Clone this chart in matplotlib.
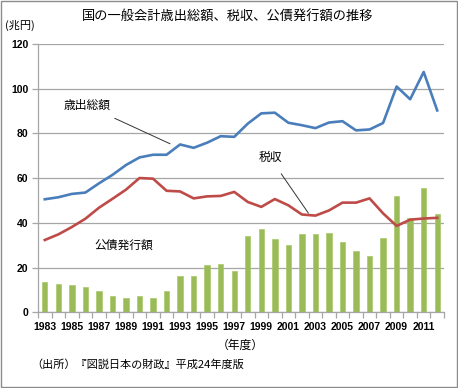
import matplotlib
matplotlib.use('Agg')
import matplotlib.pyplot as plt
import matplotlib.patches as mpatches
import numpy as np

# data (兆円), FY1983-2012
years = list(range(1983, 2013))
spending = [50.6, 51.5, 53.0, 53.6, 57.7, 61.5, 65.9, 69.3, 70.5, 70.5,
            75.1, 73.6, 75.9, 78.8, 78.5, 84.4, 89.0, 89.3, 84.8, 83.7,
            82.4, 84.9, 85.5, 81.4, 81.8, 84.7, 101.0, 95.3, 107.5, 90.3]
taxes = [32.4, 34.9, 38.2, 41.9, 46.8, 50.8, 54.9, 60.1, 59.8, 54.4,
         54.1, 51.0, 51.9, 52.1, 53.9, 49.4, 47.2, 50.7, 47.9, 43.8,
         43.3, 45.6, 49.1, 49.1, 51.0, 44.3, 38.7, 41.5, 42.0, 42.3]
bonds = [13.5, 12.8, 12.3, 11.3, 9.4, 7.2, 6.6, 7.3, 6.7, 9.5,
         16.2, 16.5, 21.2, 21.7, 18.5, 34.0, 37.5, 33.0, 30.0, 35.0,
         35.3, 35.5, 31.3, 27.5, 25.4, 33.2, 52.0, 42.3, 55.8, 44.2]
yticks = [0, 20, 40, 60, 80, 100, 120]

jp = ['Noto Sans CJK JP', 'DejaVu Sans']
num = 'Liberation Sans'

fig = plt.figure(figsize=(4.58, 3.88), dpi=100)
ax = fig.add_axes([0.083, 0.1946, 0.8864, 0.692])

x = np.arange(len(years))
ax.bar(x, bonds, width=0.4, color='#9bbb59', edgecolor='#a9c96a', linewidth=0.5, zorder=2)
ax.plot(x, spending, color='#4a7ebb', linewidth=1.9, zorder=3)
ax.plot(x, taxes, color='#be4b48', linewidth=1.9, zorder=3)

ax.set_xlim(-0.5, len(years) - 0.5)
ax.set_ylim(0, 120)
ax.set_yticks(yticks)
ax.set_yticklabels([str(v) for v in yticks], fontfamily=num, fontweight='bold', fontsize=7.5)
ax.yaxis.grid(True, color='#a6a6a6', linewidth=0.9, zorder=0)
ax.set_axisbelow(True)

ax.set_xticks(x[::2])
ax.set_xticklabels([str(y) for y in years[::2]], fontfamily=num, fontweight='bold', fontsize=7.5)
ax.tick_params(axis='x', length=0, pad=7)
ax.set_xticks(np.arange(-0.5, len(years), 1.0), minor=True)
ax.tick_params(axis='x', which='minor', length=4, color='#a6a6a6', width=0.9)
ax.tick_params(axis='y', length=4, color='#a6a6a6', width=0.9, pad=3)

for s in ['top', 'right']:
    ax.spines[s].set_visible(False)
for s in ['left', 'bottom']:
    ax.spines[s].set_color('#a6a6a6')
    ax.spines[s].set_linewidth(0.9)

# labels
ax.annotate('歳出総額', xy=(9.26, 75.4), xytext=(3.12, 92.5), family=jp, fontsize=8.5,
            ha='center', va='center',
            arrowprops=dict(arrowstyle='-', color='#333333', linewidth=0.7, shrinkA=6, shrinkB=0))
ax.annotate('税収', xy=(19.48, 44.4), xytext=(16.65, 69.2), family=jp, fontsize=8.5,
            ha='center', va='center',
            arrowprops=dict(arrowstyle='-', color='#333333', linewidth=0.7, shrinkA=6, shrinkB=0))
ax.text(5.86, 30.2, '公債発行額', family=jp, fontsize=8.5, ha='center', va='center')

fig.text(0.498, 0.956, '国の一般会計歳出総額、税収、公債発行額の推移', family=jp, fontsize=9.5,
         ha='center', va='center')
fig.text(0.011, 0.935, '(兆円)', family=jp, fontsize=8, ha='left', va='center')
fig.text(0.525, 0.11, '（年度）', family=jp, fontsize=8.5, ha='center', va='center')
fig.text(0.068, 0.06, '（出所）『図説日本の財政』平成24年度版', family=jp, fontsize=8,
         ha='left', va='center')

fig.patches.append(mpatches.Rectangle((0.002, 0.003), 0.995, 0.994, transform=fig.transFigure,
                                      fill=False, edgecolor='#8c8c8c', linewidth=1.0))

plt.savefig('out.png', dpi=100)
